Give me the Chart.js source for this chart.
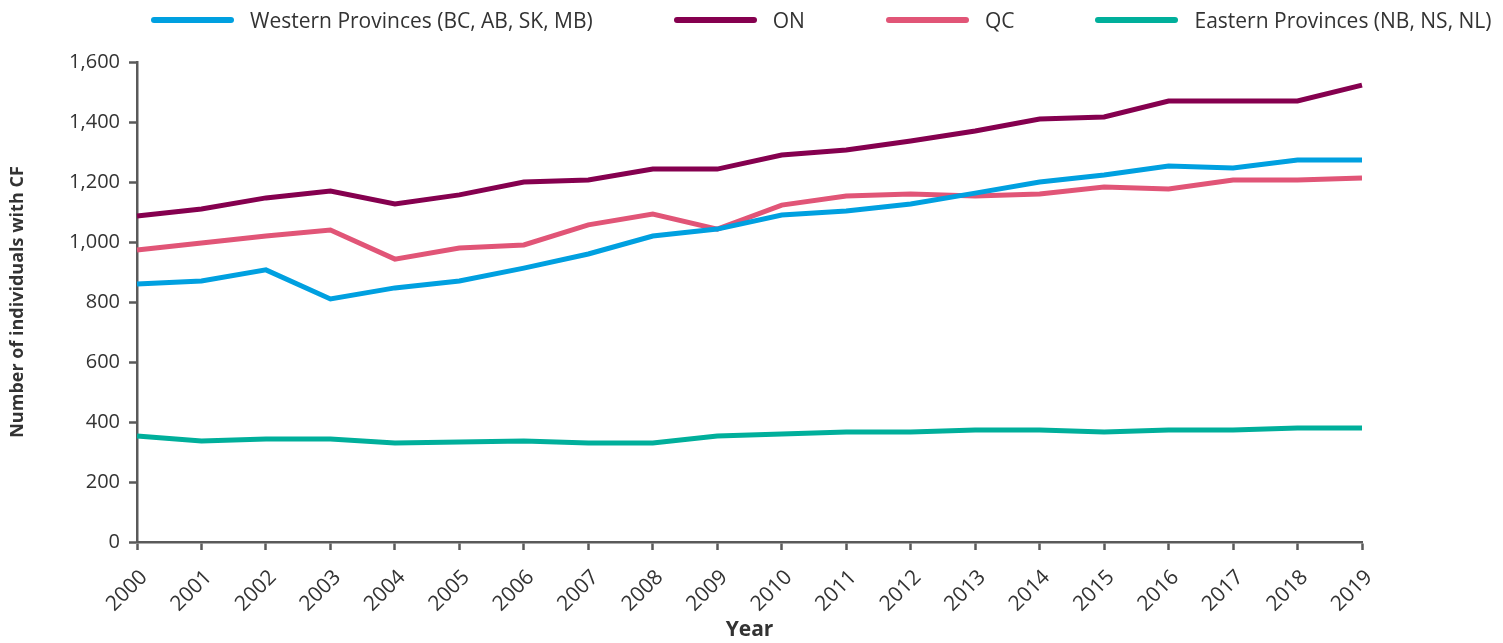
<!DOCTYPE html>
<html>
<head>
<meta charset="utf-8">
<script src="https://cdn.jsdelivr.net/npm/chart.js@4"></script>
<style>
  body { margin: 0; background: #fff; }
  .wrap { position: relative; width: 1503px; height: 643px; }
  #legend {
    position: absolute; top: 0; left: 151px; height: 40px;
    display: flex; align-items: center;
    font-family: 'Open Sans', sans-serif; font-size: 21px; color: #333;
  }
  #legend .item { display: flex; align-items: center; margin-right: 81px; }
  #legend .item:last-child { margin-right: 0; }
  #legend .swatch { width: 83px; height: 6px; border-radius: 3px; margin-right: 16px; }
</style>
</head>
<body>
<div class="wrap">
  <canvas id="cfChart" width="1503" height="643"></canvas>
  <div id="legend"></div>
</div>
<script>
const years = [
  '2000', '2001', '2002', '2003', '2004', '2005', '2006', '2007', '2008', '2009',
  '2010', '2011', '2012', '2013', '2014', '2015', '2016', '2017', '2018', '2019',
];

const western = [860, 870, 907, 810, 847, 870, 913, 960, 1020, 1043,
  1090, 1103, 1127, 1163, 1200, 1223, 1253, 1247, 1273, 1273];
const ontario = [1087, 1110, 1147, 1170, 1127, 1157, 1200, 1207, 1243, 1243,
  1290, 1307, 1337, 1370, 1410, 1417, 1470, 1470, 1470, 1523];
const quebec = [973, 997, 1020, 1040, 943, 980, 990, 1057, 1093, 1043,
  1123, 1153, 1160, 1153, 1160, 1183, 1177, 1207, 1207, 1213];
const eastern = [353, 337, 343, 343, 330, 333, 337, 330, 330, 353,
  360, 367, 367, 373, 373, 367, 373, 373, 380, 380];

const seriesNames = ['Western Provinces (BC, AB, SK, MB)', 'ON', 'QC', 'Eastern Provinces (NB, NS, NL)'];
const seriesColors = ['#00a0e0', '#85004f', '#e15577', '#00af9b'];

const axisColor = '#5a5a5a';
const textColor = '#333';

function makeDataset(i, values) {
  return {
    label: seriesNames[i],
    data: values,
    borderColor: seriesColors[i],
    backgroundColor: seriesColors[i],
    borderWidth: 5,
    pointRadius: 0,
    tension: 0,
    fill: false,
  };
}

// html legend, built from the chart's own datasets
const htmlLegend = {
  id: 'htmlLegend',
  afterUpdate(chart) {
    const box = document.getElementById('legend');
    box.innerHTML = '';
    chart.data.datasets.forEach((ds) => {
      const item = document.createElement('div');
      item.className = 'item';
      const sw = document.createElement('span');
      sw.className = 'swatch';
      sw.style.background = ds.borderColor;
      const txt = document.createElement('span');
      txt.textContent = ds.label;
      item.appendChild(sw);
      item.appendChild(txt);
      box.appendChild(item);
    });
  },
};

const ctx = document.getElementById('cfChart').getContext('2d');
new Chart(ctx, {
  type: 'line',
  data: {
    labels: years,
    datasets: [
      makeDataset(0, western),
      makeDataset(1, ontario),
      makeDataset(2, quebec),
      makeDataset(3, eastern),
    ],
  },
  plugins: [htmlLegend],
  options: {
    responsive: false,
    animation: false,
    events: [],
    layout: {
      padding: { top: 62, right: 141, bottom: 0, left: 0 },
    },
    plugins: {
      legend: { display: false },
      tooltip: { enabled: false },
    },
    scales: {
      x: {
        offset: false,
        grid: {
          display: true,
          drawOnChartArea: false,
          drawTicks: true,
          tickLength: 8,
          tickWidth: 2.5,
          color: axisColor,
        },
        border: { display: true, color: axisColor, width: 2.5 },
        ticks: {
          autoSkip: false,
          minRotation: 45,
          maxRotation: 45,
          padding: 15,
          labelOffset: 7,
          color: textColor,
          font: { family: 'Open Sans', size: 21 },
        },
        title: {
          display: true,
          text: 'Year',
          color: textColor,
          padding: { top: 0, bottom: 0 },
          font: { family: 'Open Sans', size: 21, weight: 'bold' },
        },
        afterFit(scale) {
          scale.height = 101;
        },
      },
      y: {
        min: 0,
        max: 1600,
        grid: {
          display: true,
          drawOnChartArea: false,
          drawTicks: true,
          tickLength: 8,
          tickWidth: 2.5,
          color: axisColor,
        },
        border: { display: true, color: axisColor, width: 2.5 },
        ticks: {
          stepSize: 200,
          padding: 9,
          color: textColor,
          font: { family: 'Open Sans', size: 20 },
        },
        title: {
          display: true,
          text: 'Number of individuals with CF',
          color: textColor,
          padding: { top: 7, bottom: 0 },
          font: { family: 'Open Sans', size: 18, weight: 'bold' },
        },
        afterFit(scale) {
          scale.width = 137;
        },
      },
    },
  },
});
</script>
</body>
</html>
